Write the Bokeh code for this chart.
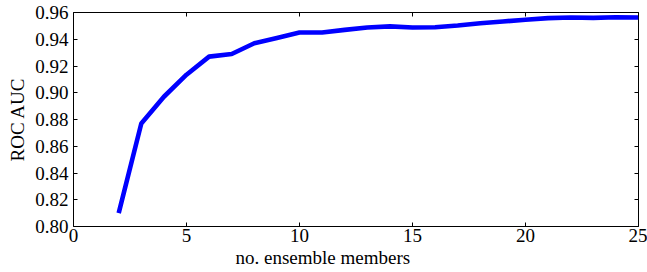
from bokeh.plotting import figure
from bokeh.models import Range1d, LinearAxis, FixedTicker, NumeralTickFormatter, Title
from bokeh.embed import file_html
from bokeh.resources import INLINE

members = [2, 3, 4, 5, 6, 7, 8, 9, 10, 11, 12, 13, 14, 15, 16, 17, 18, 19, 20, 21, 22, 23, 24, 25]
roc_auc = [0.810, 0.877, 0.897, 0.9135, 0.927, 0.929, 0.937, 0.941, 0.945, 0.945, 0.947,
           0.9488, 0.9496, 0.9488, 0.949, 0.9503, 0.952, 0.9533, 0.9546, 0.9558, 0.9563,
           0.956, 0.9565, 0.9563]
x_ticks = [0, 5, 10, 15, 20, 25]
y_ticks = [0.80, 0.82, 0.84, 0.86, 0.88, 0.90, 0.92, 0.94, 0.96]
x_title = "no. ensemble members"
y_title = "ROC AUC"

FONT = "Liberation Serif"
FS = "19px"

p = figure(width=647, height=272, output_backend="svg", toolbar_location=None,
           x_range=Range1d(0, 25), y_range=Range1d(0.80, 0.96),
           x_axis_location=None, y_axis_location=None,
           min_border_left=73, min_border_right=9, min_border_top=12, min_border_bottom=46)
p.grid.visible = False
p.outline_line_color = "black"
p.outline_line_width = 1
p.background_fill_color = "white"
p.border_fill_color = "white"

def style(ax, labels=True):
    ax.axis_line_color = None
    ax.major_tick_in = 4
    ax.major_tick_out = 0
    ax.minor_tick_line_color = None
    ax.major_tick_line_color = "black"
    ax.major_label_text_font = FONT
    ax.major_label_text_color = "black"
    if labels:
        ax.major_label_text_font_size = FS
    else:
        ax.major_label_text_font_size = "0px"
        ax.major_label_text_color = None
        ax.major_label_standoff = 0
    ax.axis_label_text_font = FONT
    ax.axis_label_text_font_size = FS
    ax.axis_label_text_font_style = "normal"
    ax.axis_label_text_color = "black"

xb = LinearAxis(ticker=FixedTicker(ticks=x_ticks))
style(xb)
xb.major_label_standoff = 2
p.add_layout(xb, "below")

yl = LinearAxis(ticker=FixedTicker(ticks=y_ticks), axis_label=y_title,
                formatter=NumeralTickFormatter(format="0.00"))
style(yl)
yl.major_label_standoff = 5
yl.axis_label_standoff = 4
p.add_layout(yl, "left")

xt = LinearAxis(ticker=FixedTicker(ticks=x_ticks))
style(xt, labels=False)
p.add_layout(xt, "above")

yr = LinearAxis(ticker=FixedTicker(ticks=y_ticks))
style(yr, labels=False)
p.add_layout(yr, "right")

p.line(members, roc_auc, line_width=4.6, line_color="#0000ff")

# x-axis title, placed slightly left of the frame centre as in the reference
p.add_layout(Title(text=x_title, align="left", offset=162, standoff=0,
                   text_font=FONT, text_font_size=FS, text_font_style="normal",
                   text_color="black"), "below")

open("out.html", "w").write(file_html(p, INLINE))
